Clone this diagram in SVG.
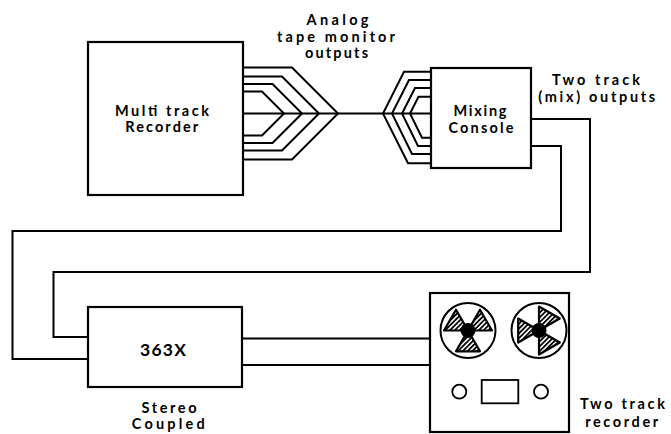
<svg xmlns="http://www.w3.org/2000/svg" width="671" height="434" viewBox="0 0 671 434">
<defs>
<pattern id="hatch" patternUnits="userSpaceOnUse" width="3.4" height="3.4" patternTransform="rotate(45)">
<rect width="3.4" height="3.4" fill="#fff"/>
<line x1="0.9" y1="0" x2="0.9" y2="3.4" stroke="#000" stroke-width="1.8"/>
</pattern>
</defs>
<style>
.box{fill:#fff;stroke:#000;stroke-width:2.2}
.wire{fill:none;stroke:#000;stroke-width:2}
.lbl{font-family:Lato,"DejaVu Sans",sans-serif;font-weight:700;font-size:14.5px;fill:#000;text-anchor:middle}
.blade{fill:url(#hatch);stroke:#000;stroke-width:2.2;stroke-linejoin:round}
.hub{fill:#000}
.ctl{fill:#fff;stroke:#000;stroke-width:1.8}
</style>
<rect width="671" height="434" fill="#fff"/>

<g id="connectors" class="wire">
<path d="M243,91.5 H262 L284,113.5 L262,135.5 H243"/>
<path d="M243,84 H272.5 L302,113.5 L272.5,143 H243"/>
<path d="M243,76.5 H282 L319,113.5 L282,150.5 H243"/>
<path d="M243,67.5 H292 L338,113.5 L292,159.5 H243"/>
<path d="M243,113.5 H431"/>
<path d="M431,71.7 H404 L383,113.5 L408,163.3 H431"/>
<path d="M431,80 H409 L392,113.5 L412,154 H431"/>
<path d="M431,88 H415 L402,113.5 L418,146 H431"/>
<path d="M431,96.7 H418.5 L410,113.5 L422,137.7 H431"/>
<path d="M531,119 H590 V272 H53.5 V337 H88"/>
<path d="M531,146 H561 V231 H12.5 V359 H88"/>
<path d="M242,338.5 H430"/>
<path d="M242,365 H430"/>
</g>

<g id="multitrack-recorder">
<rect class="box" x="88" y="42" width="155" height="153"/>
<text class="lbl" x="162" y="115.7" textLength="94" lengthAdjust="spacing">Multi track</text>
<text class="lbl" x="161.7" y="131.7" textLength="73" lengthAdjust="spacing">Recorder</text>
</g>

<g id="mixing-console">
<rect class="box" x="431" y="68" width="100" height="100"/>
<text class="lbl" x="480" y="115.5" textLength="53" lengthAdjust="spacing">Mixing</text>
<text class="lbl" x="481" y="132.5" textLength="65" lengthAdjust="spacing">Console</text>
</g>

<g id="unit-363x">
<rect class="box" x="88" y="307" width="154" height="80"/>
<text class="lbl" x="163" y="356" style="font-size:17.5px" textLength="46" lengthAdjust="spacing">363X</text>
</g>

<g id="two-track-recorder">
<rect class="box" x="430" y="293" width="139" height="139"/>
<circle cx="468" cy="330.5" r="27.5" fill="#fff" stroke="#000" stroke-width="2"/>
<path class="blade" d="M468,330.5 L444,330.5 L456,309.7 Z"/>
<path class="blade" d="M468,330.5 L480,309.7 L492,330.5 Z"/>
<path class="blade" d="M468,330.5 L480,351.3 L456,351.3 Z"/>
<circle class="hub" cx="468" cy="330.5" r="7.5"/>
<circle cx="539" cy="330.5" r="27.5" fill="#fff" stroke="#000" stroke-width="2"/>
<path class="blade" d="M539,330.5 L518.2,342.5 L518.2,318.5 Z"/>
<path class="blade" d="M539,330.5 L539,306.5 L559.8,318.5 Z"/>
<path class="blade" d="M539,330.5 L559.8,342.5 L539,354.5 Z"/>
<circle class="hub" cx="539" cy="330.5" r="7.5"/>
<circle class="ctl" cx="459.3" cy="391.7" r="7"/>
<rect class="ctl" x="481.7" y="380" width="36.6" height="23.3"/>
<circle class="ctl" cx="541" cy="391.7" r="7"/>
</g>

<g id="labels">
<text class="lbl" x="337.5" y="25" textLength="62" lengthAdjust="spacing">Analog</text>
<text class="lbl" x="336" y="41.5" textLength="118" lengthAdjust="spacing">tape monitor</text>
<text class="lbl" x="336.5" y="58" textLength="63" lengthAdjust="spacing">outputs</text>
<text class="lbl" x="596" y="85" textLength="88" lengthAdjust="spacing">Two track</text>
<text class="lbl" x="596.7" y="101.5" textLength="117" lengthAdjust="spacing">(mix) outputs</text>
<text class="lbl" x="169" y="413.3" textLength="55" lengthAdjust="spacing">Stereo</text>
<text class="lbl" x="168.3" y="429.3" textLength="73" lengthAdjust="spacing">Coupled</text>
<text class="lbl" x="622.5" y="409.3" textLength="85" lengthAdjust="spacing">Two track</text>
<text class="lbl" x="621.7" y="426.7" textLength="73" lengthAdjust="spacing">recorder</text>
</g>
</svg>
